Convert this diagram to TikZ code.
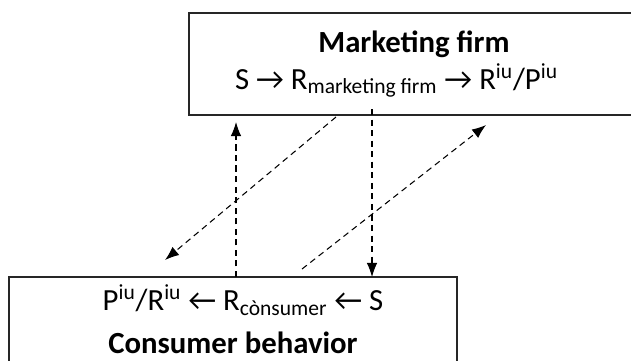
\documentclass[tikz,border=0pt]{standalone}
\usepackage{fontspec}
\setmainfont{Carlito}
\usetikzlibrary{arrows.meta}
\begin{document}
\begin{tikzpicture}[
        x=0.02cm,
        y=-0.02cm,
        line width=1.1pt
    ]
    \tikzset{
        boxnode/.style = {draw=black!85, line width=1.1pt, align=center, inner sep=0pt},
        dasharrow/.style = {-{Latex[length=8pt,width=6pt]}, line width=0.6pt, dash pattern=on 3.5pt off 2.5pt},
    }
    \useasboundingbox (0,0) rectangle (631,360);
    \clip (0,0) rectangle (631,360);
    \node[boxnode, minimum width=9.0cm, minimum height=2.05cm, font=\fontsize{17.5}{21}\selectfont] at (414,64) (mkt)
        {\textbf{Marketing firm}\\ S → R\textsubscript{marketing firm} → R\textsuperscript{iu}/P\textsuperscript{iu}\hspace*{0.7cm}};
    \node[boxnode, minimum width=8.96cm, minimum height=1.9cm, font=\fontsize{17.5}{24}\selectfont] at (233,324.5) (cons)
        {\hspace*{0.4cm}P\textsuperscript{iu}/R\textsuperscript{iu} ← R\textsubscript{cònsumer} ← S\\ \textbf{Consumer behavior}\rule[-0.22cm]{0pt}{0pt}};
    %
    \coordinate (upfrom) at (236,277);
    \coordinate (upto) at (236,122);
    \coordinate (downfrom) at (372,109);
    \coordinate (downto) at (372,277);
    \coordinate (dlfrom) at (336,117);
    \coordinate (dlto) at (165,260);
    \coordinate (urfrom) at (302,269);
    \coordinate (urto) at (486,125);
    %
    \draw[dasharrow] (upfrom) -- (upto);
    \draw[dasharrow] (downfrom) -- (downto);
    \draw[dasharrow] (dlfrom) -- (dlto);
    \draw[dasharrow] (urfrom) -- (urto);
\end{tikzpicture}
\end{document}
